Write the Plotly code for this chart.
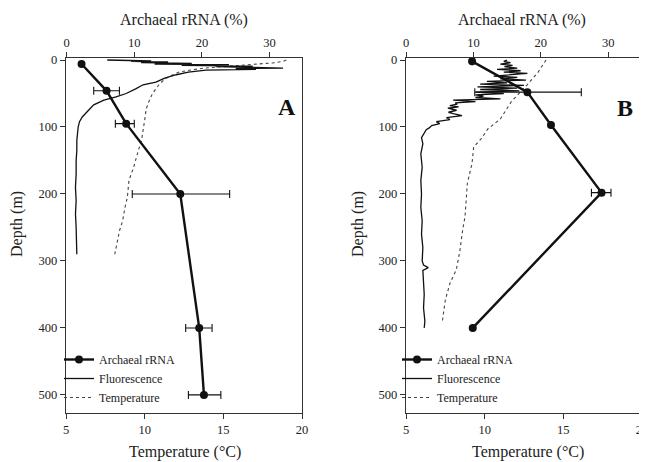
import plotly.graph_objects as go

# ---------------- data ----------------
# Panel A
rrnaA_depth = [6, 46, 95, 200, 400, 500]
rrnaA = [2.2, 5.9, 8.8, 16.8, 19.6, 20.3]
rrnaA_err_minus = [0, 1.9, 1.6, 7.1, 2.0, 2.3]
rrnaA_err_plus = [0, 1.9, 1.2, 7.3, 1.9, 2.5]

fluorA_depth = [0, 0.5, 1, 1.5, 2, 3, 4, 5, 6, 7, 8, 9, 10, 11, 12, 13, 14, 15, 18, 22, 27,
                33, 37, 43, 50, 55, 60, 67, 75, 85, 92, 100, 110, 120, 135, 150, 170, 190,
                210, 230, 250, 270, 290]
fluorA = [6.0, 12.0, 8.5, 12.5, 9.5, 15.0, 11.0, 18.5, 13.0, 24.0, 17.0, 27.5, 22.0, 30.5,
          32.0, 25.0, 28.0, 20.6, 18.0, 16.2, 14.5, 13.2, 11.3, 10.2, 8.8, 7.3, 5.5, 4.0,
          3.2, 2.3, 1.9, 1.7, 1.6, 1.5, 1.5, 1.4, 1.4, 1.3, 1.4, 1.3, 1.4, 1.4, 1.5]

tempA_depth = [0, 2, 4, 6, 8, 10, 12, 15, 18, 22, 28, 37, 50, 60, 73, 90, 107, 120, 135,
               160, 180, 205, 220, 240, 255, 275, 290]
tempA = [19.0, 18.8, 18.3, 17.0, 15.8, 14.8, 13.8, 12.9, 12.2, 11.8, 11.3, 10.9, 10.5, 10.3,
         10.1, 10.0, 9.9, 9.8, 9.6, 9.3, 9.0, 8.9, 8.75, 8.6, 8.4, 8.25, 8.1]

# Panel B
rrnaB_depth = [2, 48, 97, 198, 400]
rrnaB = [9.8, 18.0, 21.5, 29.0, 9.9]
rrnaB_err_minus = [0, 7.8, 0, 1.5, 0]
rrnaB_err_plus = [0, 8.0, 0, 1.4, 0]

fluorB_depth = [0, 2, 4, 6, 8, 10, 12, 14, 16, 18, 20, 22, 24, 26, 28, 30, 32, 34, 36, 38,
                40, 42, 44, 46, 48, 50, 52, 54, 56, 58, 60, 62, 64, 66, 68, 70, 72, 75, 78,
                80, 83, 86, 89, 92, 95, 98, 101, 104, 108, 112, 116, 125, 140, 160, 180,
                200, 220, 240, 260, 280, 300, 306, 310, 314, 330, 350, 370, 390, 400]
fluorB = [15.0, 14.5, 15.5, 14.0, 15.8, 14.6, 16.5, 13.5, 17.0, 14.5, 18.0, 14.8, 13.0,
          16.5, 14.0, 17.8, 12.0, 15.0, 11.0, 17.5, 10.6, 16.5, 11.0, 16.8, 10.3, 14.5,
          10.3, 11.5, 10.3, 14.0, 7.0, 10.3, 7.3, 7.6, 6.5, 7.8, 6.2, 7.5, 6.3, 7.0, 8.3,
          6.0, 6.5, 4.5, 5.0, 3.8, 3.5, 3.0, 2.8, 2.5, 2.3, 2.5, 2.2, 2.4, 2.2, 2.3, 2.2,
          2.4, 2.3, 2.5, 2.4, 2.6, 3.3, 2.5, 2.6, 2.7, 2.6, 2.8, 2.7]

tempB_depth = [0, 18, 37, 62, 88, 103, 117, 130, 154, 184, 234, 254, 284, 313, 333, 358, 392]
tempB = [13.9, 13.4, 12.7, 11.7, 11.0, 10.2, 9.8, 9.3, 9.2, 8.9, 8.75, 8.6, 8.43, 8.2, 7.8,
         7.5, 7.3]

depth_ticks = [0, 100, 200, 300, 400, 500]
temp_ticks = [5, 10, 15, 20]
rrna_ticks = [0, 10, 20, 30]

# ---------------- figure ----------------
FONT = "Liberation Serif, Times New Roman, serif"
INK = "#111111"
TXT = "#222222"
OFF = 8                      # page body margin of the browser
W, H = 647 - OFF, 462 - OFF


def px(x):
    return (x - OFF) / W


def py(y):
    return (H - (y - OFF)) / H


fig = go.Figure()


def add_panel(xb, xt, ya, legend, rd, rv, em, ep, fd, fv, td, tv):
    fig.add_trace(go.Scatter(
        x=rv, y=rd, xaxis=xt, yaxis=ya, mode="lines+markers", name="Archaeal rRNA",
        line=dict(color=INK, width=2.4), marker=dict(color=INK, size=8, symbol="circle"),
        error_x=dict(type="data", symmetric=False, array=ep, arrayminus=em,
                     color=INK, thickness=1.1, width=4),
        cliponaxis=False, legend=legend))
    fig.add_trace(go.Scatter(
        x=fv, y=fd, xaxis=xt, yaxis=ya, mode="lines", name="Fluorescence",
        line=dict(color=INK, width=1.3), legend=legend))
    fig.add_trace(go.Scatter(
        x=tv, y=td, xaxis=xb, yaxis=ya, mode="lines", name="Temperature",
        line=dict(color="#444444", width=1.1, dash="dot"), legend=legend))


add_panel("x", "x2", "y", "legend", rrnaA_depth, rrnaA, rrnaA_err_minus, rrnaA_err_plus,
          fluorA_depth, fluorA, tempA_depth, tempA)
add_panel("x3", "x4", "y2", "legend2", rrnaB_depth, rrnaB, rrnaB_err_minus, rrnaB_err_plus,
          fluorB_depth, fluorB, tempB_depth, tempB)

axis_common = dict(showline=True, linecolor="#333333", linewidth=1.4, ticks="outside",
                   ticklen=5, tickwidth=1.2, tickcolor="#333333", showgrid=False,
                   zeroline=False, automargin=False, ticklabeloverflow="allow",
                   tickfont=dict(family=FONT, size=12.5, color=TXT))

domA = [px(66), px(302)]
domB = [px(406), px(642)]
ydom = [py(413), py(58)]

legend_font = dict(family=FONT, size=12, color=TXT)

fig.update_layout(
    template="none",
    width=W, height=H, margin=dict(l=0, r=0, t=0, b=0, autoexpand=False),
    paper_bgcolor="white", plot_bgcolor="white", showlegend=True,
    font=dict(family=FONT, color=TXT),
    xaxis=dict(domain=domA, range=[5, 20], tickvals=temp_ticks, anchor="y",
               mirror=False, **axis_common),
    xaxis2=dict(range=[-0.1, 34.8], tickvals=rrna_ticks, overlaying="x", side="top",
                anchor="y", **axis_common),
    yaxis=dict(domain=ydom, range=[527, -3], tickvals=depth_ticks, anchor="x",
               mirror=True, **axis_common),
    xaxis3=dict(domain=domB, range=[5, 20], tickvals=temp_ticks, anchor="y2",
                **axis_common),
    xaxis4=dict(range=[0, 35], tickvals=rrna_ticks, overlaying="x3", side="top",
                anchor="y2", **axis_common),
    yaxis2=dict(domain=ydom, range=[527, -3], tickvals=depth_ticks, anchor="x3",
                mirror=True, **axis_common),
    legend=dict(x=px(59), y=py(345), xanchor="left", yanchor="top",
                bgcolor="rgba(0,0,0,0)", font=legend_font, itemwidth=30, tracegroupgap=0),
    legend2=dict(x=px(397), y=py(345), xanchor="left", yanchor="top",
                 bgcolor="rgba(0,0,0,0)", font=legend_font, itemwidth=30, tracegroupgap=0),
)

ann_font = dict(family=FONT, size=16, color=TXT)
annotations = [
    dict(text="Archaeal rRNA (%)", x=px(184), y=py(20)),
    dict(text="Archaeal rRNA (%)", x=px(522), y=py(20)),
    dict(text="Temperature (°C)", x=px(185), y=py(452)),
    dict(text="Temperature (°C)", x=px(528), y=py(452)),
]
for a in annotations:
    fig.add_annotation(xref="paper", yref="paper", showarrow=False, font=ann_font,
                       xanchor="center", yanchor="middle", **a)
for xc in (17, 358):
    fig.add_annotation(text="Depth (m)", xref="paper", yref="paper", x=px(xc),
                       y=py(224), showarrow=False, textangle=-90, font=ann_font,
                       xanchor="center", yanchor="middle")
for lab, xc, yc in (("A", 287, 107), ("B", 625, 108)):
    fig.add_annotation(text="<b>%s</b>" % lab, xref="paper", yref="paper", x=px(xc),
                       y=py(yc), showarrow=False,
                       font=dict(family=FONT, size=24, color=INK),
                       xanchor="center", yanchor="middle")

fig.write_html("out.html")
